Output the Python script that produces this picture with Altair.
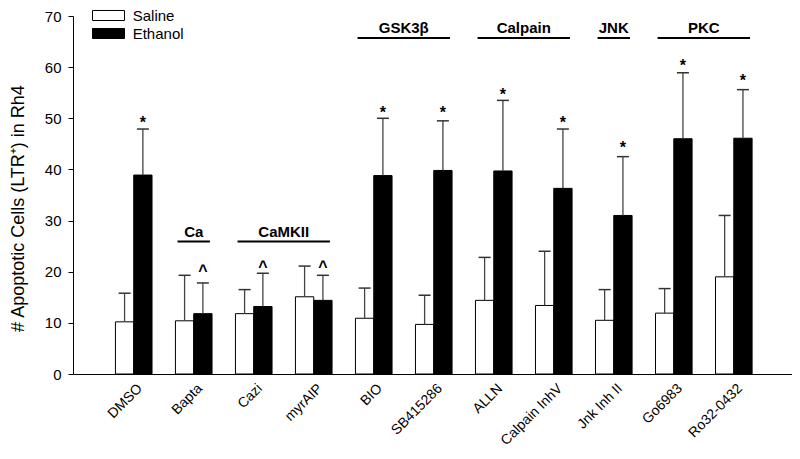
import json
import altair as alt
import pandas as pd

FONT = "Liberation Sans"

groups = ["DMSO", "Bapta", "Cazi", "myrAIP", "BIO", "SB415286", "ALLN",
          "Calpain InhV", "Jnk Inh II", "Go6983", "Ro32-0432"]
series = ["Saline", "Ethanol"]
saline_mean = [10.2, 10.4, 11.8, 15.1, 10.9, 9.7, 14.4, 13.4, 10.5, 11.9, 19.0]
saline_sem = [5.6, 8.9, 4.7, 6.0, 5.9, 5.7, 8.4, 10.6, 6.0, 4.8, 12.0]
ethanol_mean = [38.9, 11.8, 13.2, 14.4, 38.8, 39.8, 39.7, 36.3, 31.0, 46.0, 46.1]
ethanol_sem = [9.0, 6.0, 6.5, 4.9, 11.2, 9.7, 13.8, 11.6, 11.5, 12.9, 9.5]

# significance marks on ethanol bars: group, symbol, height of the mark
note_group = ["DMSO", "Bapta", "Cazi", "myrAIP", "BIO", "SB415286", "ALLN",
              "Calpain InhV", "Jnk Inh II", "Go6983", "Ro32-0432"]
note_symbol = ["*", "^", "^", "^", "*", "*", "*", "*", "*", "*", "*"]
note_y = [49.9, 21.0, 21.8, 21.8, 51.9, 51.8, 55.4, 49.9, 44.9, 61.1, 58.0]

# pathway brackets
path_names = ["Ca", "CaMKII", "GSK3\u03b2", "Calpain", "JNK", "PKC"]
path_first = ["Bapta", "Cazi", "BIO", "ALLN", "Jnk Inh II", "Go6983"]
path_last = ["Bapta", "myrAIP", "SB415286", "Calpain InhV", "Jnk Inh II", "Ro32-0432"]
path_level = [25.9, 25.9, 65.7, 65.7, 65.7, 65.7]

BAR_W = 0.305
CAP_W = 0.1
idx = {g: i for i, g in enumerate(groups)}

rows = []
for i, g in enumerate(groups):
    for s, means, sems in (("Saline", saline_mean, saline_sem),
                           ("Ethanol", ethanol_mean, ethanol_sem)):
        x0 = i - BAR_W if s == "Saline" else i
        xc = x0 + BAR_W / 2
        rows.append(dict(group=g, series=s, mean=means[i], top=means[i] + sems[i],
                         x0=x0, x1=x0 + BAR_W, xc=xc, cl=xc - CAP_W, cr=xc + CAP_W))
bars_df = pd.DataFrame(rows)

notes_df = pd.DataFrame(dict(group=note_group, sym=note_symbol, y=note_y))
notes_df["xc"] = notes_df["group"].map(idx) + BAR_W / 2

paths_df = pd.DataFrame(dict(name=path_names, first=path_first, last=path_last, level=path_level))
paths_df["gx0"] = paths_df["first"].map(idx) - 0.27
paths_df["gx1"] = paths_df["last"].map(idx) + 0.27
paths_df["gxc"] = (paths_df["gx0"] + paths_df["gx1"]) / 2

xscale = alt.Scale(domain=[-1.012, 10.97], nice=False, zero=False)
yscale = alt.Scale(domain=[0, 70], nice=False)

label_expr = json.dumps(groups) + "[datum.value]"
xaxis = alt.Axis(values=list(range(len(groups))), labelExpr=label_expr, labelAngle=-45,
                 labelAlign="right", labelBaseline="top", labelPadding=7, labelOffset=1,
                 labelOverlap=False, labelBound=False, labelFlush=False,
                 ticks=False, grid=False, domainColor="black", domainWidth=1,
                 labelFontSize=14, labelColor="black", labelFont=FONT, title=None)
yaxis = alt.Axis(values=list(range(0, 71, 10)), grid=False, domainColor="black",
                 tickColor="black", tickSize=5, labelFontSize=15, labelColor="black",
                 labelFont=FONT, labelPadding=7,
                 title="# Apoptotic Cells (LTR\u207a) in Rh4", titleFontSize=18,
                 titleFont=FONT, titleFontWeight="normal", titleColor="black",
                 titleX=-55, titleY=192, titleAlign="center", titleBaseline="middle",
                 titleAngle=-90)

legend = alt.Legend(orient="none", legendX=19, legendY=-10, padding=0, title=None,
                    symbolType="M-1,-0.556H2.556V0.556H-1Z", symbolSize=324,
                    symbolStrokeColor="black", symbolStrokeWidth=1, labelOffset=21.7,
                    labelFontSize=15, labelFont=FONT, labelColor="black", rowPadding=0)

bars = alt.Chart(bars_df).mark_bar(stroke="black", strokeWidth=1).encode(
    x=alt.X("x0:Q", scale=xscale, axis=xaxis),
    x2="x1:Q",
    y=alt.Y("mean:Q", scale=yscale, axis=yaxis),
    y2=alt.datum(0),
    fill=alt.Fill("series:N", scale=alt.Scale(domain=series, range=["white", "black"]),
                  legend=legend),
)

stems = alt.Chart(bars_df).mark_rule(color="#444", strokeWidth=1.3).encode(
    x=alt.X("xc:Q", scale=xscale), y=alt.Y("mean:Q", scale=yscale), y2="top:Q")

caps = alt.Chart(bars_df).mark_rule(color="#333", strokeWidth=1.5).encode(
    x=alt.X("cl:Q", scale=xscale), x2="cr:Q", y=alt.Y("top:Q", scale=yscale))

notes = alt.Chart(notes_df).mark_text(font=FONT, fontSize=16, fontWeight="bold",
                                      baseline="alphabetic", dy=9, color="black").encode(
    x=alt.X("xc:Q", scale=xscale), y=alt.Y("y:Q", scale=yscale), text="sym:N")

glines = alt.Chart(paths_df).mark_rule(color="black", strokeWidth=2).encode(
    x=alt.X("gx0:Q", scale=xscale), x2="gx1:Q", y=alt.Y("level:Q", scale=yscale))

gtext = alt.Chart(paths_df).mark_text(font=FONT, fontSize=15, fontWeight="bold",
                                      baseline="alphabetic", dy=-5, color="black").encode(
    x=alt.X("gxc:Q", scale=xscale), y=alt.Y("level:Q", scale=yscale), text="name:N")

chart = alt.layer(bars, stems, caps, notes, glines, gtext).properties(
    width=719, height=358,
    padding={"left": 65, "top": 8, "right": 0, "bottom": 77},
    autosize=alt.AutoSizeParams(type="none"),
    background="white",
).configure_view(stroke=None)

chart.save("out.html", embed_options={"renderer": "svg", "actions": False})
